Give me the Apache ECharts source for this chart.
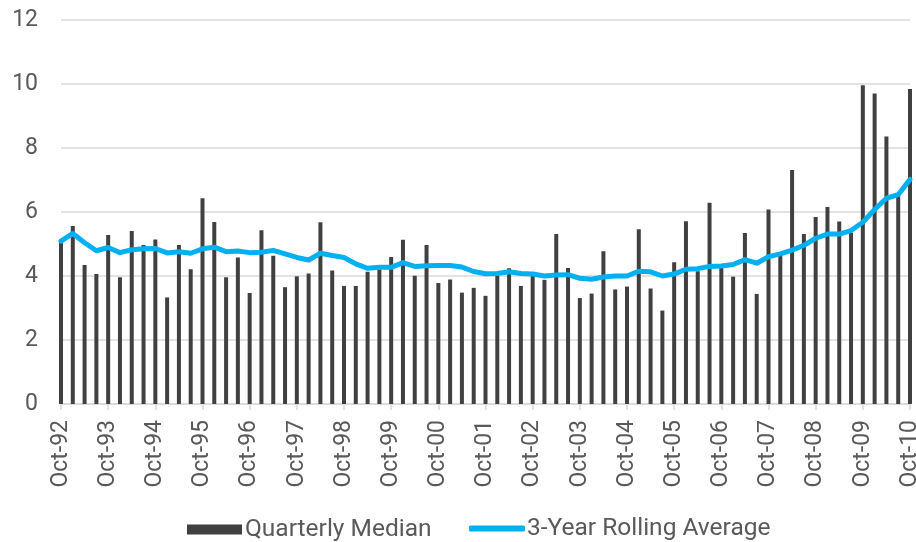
<!DOCTYPE html>
<html>
<head>
<meta charset="utf-8">
<title>Quarterly Median and 3-Year Rolling Average</title>
<script src="https://cdn.jsdelivr.net/npm/echarts@6/dist/echarts.min.js"></script>
<style>
  html, body { margin: 0; padding: 0; background: #ffffff; }
  #chart { width: 916px; height: 542px; }
</style>
</head>
<body>
<div id="chart"></div>
<script>
// Quarter labels, Oct-92 through Oct-10
const categories = [
  'Oct-92','Jan-93','Apr-93','Jul-93','Oct-93','Jan-94','Apr-94','Jul-94',
  'Oct-94','Jan-95','Apr-95','Jul-95','Oct-95','Jan-96','Apr-96','Jul-96',
  'Oct-96','Jan-97','Apr-97','Jul-97','Oct-97','Jan-98','Apr-98','Jul-98',
  'Oct-98','Jan-99','Apr-99','Jul-99','Oct-99','Jan-00','Apr-00','Jul-00',
  'Oct-00','Jan-01','Apr-01','Jul-01','Oct-01','Jan-02','Apr-02','Jul-02',
  'Oct-02','Jan-03','Apr-03','Jul-03','Oct-03','Jan-04','Apr-04','Jul-04',
  'Oct-04','Jan-05','Apr-05','Jul-05','Oct-05','Jan-06','Apr-06','Jul-06',
  'Oct-06','Jan-07','Apr-07','Jul-07','Oct-07','Jan-08','Apr-08','Jul-08',
  'Oct-08','Jan-09','Apr-09','Jul-09','Oct-09','Jan-10','Apr-10','Jul-10',
  'Oct-10'
];

// Quarterly median values
const quarterlyMedian = [
  5.15, 5.56, 4.34, 4.06, 5.28, 3.96, 5.41, 4.97, 5.14, 3.33,
  4.97, 4.21, 6.43, 5.69, 3.96, 4.58, 3.47, 5.43, 4.63, 3.65,
  3.99, 4.08, 5.68, 4.17, 3.69, 3.69, 4.13, 4.20, 4.59, 5.13,
  4.01, 4.97, 3.78, 3.89, 3.48, 3.63, 3.38, 4.00, 4.24, 3.69,
  4.00, 3.88, 5.31, 4.25, 3.31, 3.45, 4.77, 3.58, 3.67, 5.46,
  3.61, 2.92, 4.43, 5.71, 4.15, 6.29, 4.28, 3.98, 5.34, 3.44,
  6.08, 4.70, 7.31, 5.31, 5.84, 6.16, 5.70, 5.35, 9.96, 9.70,
  8.36, 6.50, 9.84
];

// 3-year rolling average
const rollingAverage = [
  5.09, 5.33, 5.04, 4.79, 4.89, 4.73, 4.82, 4.85, 4.86, 4.72,
  4.76, 4.71, 4.85, 4.90, 4.76, 4.78, 4.73, 4.74, 4.80, 4.69,
  4.58, 4.50, 4.71, 4.64, 4.58, 4.38, 4.24, 4.27, 4.27, 4.42,
  4.30, 4.32, 4.33, 4.33, 4.28, 4.14, 4.07, 4.08, 4.13, 4.08,
  4.06, 4.00, 4.03, 4.04, 3.93, 3.90, 3.97, 4.00, 4.00, 4.15,
  4.13, 4.00, 4.06, 4.21, 4.23, 4.30, 4.31, 4.36, 4.51, 4.40,
  4.60, 4.69, 4.81, 4.96, 5.18, 5.31, 5.31, 5.42, 5.68, 6.08,
  6.43, 6.54, 7.02
];

const yTicks = { min: 0, max: 12, step: 2 };

const seriesNames = ['Quarterly Median', '3-Year Rolling Average'];

const FONT = 'Roboto, "Noto Sans", sans-serif';
const TEXT = '#595959';
const GRID = '#d9d9d9';
const BAR = '#404040';
const LINE = '#00B0F0';

const chart = echarts.init(document.getElementById('chart'), null, { renderer: 'canvas' });

chart.setOption({
  animation: false,
  backgroundColor: '#ffffff',
  textStyle: { fontFamily: FONT },
  grid: {
    left: 61, right: 6, top: 20, bottom: 138,
    containLabel: false,
    outerBoundsMode: 'none'
  },
  legend: [
    {
      data: [seriesNames[0]],
      left: 187, top: 517, padding: 0,
      icon: 'rect', itemWidth: 55, itemHeight: 10,
      textStyle: { color: TEXT, fontSize: 24.5, fontFamily: FONT, padding: [0, 0, 0, -2] }
    },
    {
      data: [seriesNames[1]],
      left: 469, top: 516, padding: 0,
      icon: 'roundRect', itemWidth: 56, itemHeight: 6,
      textStyle: { color: TEXT, fontSize: 24.5, fontFamily: FONT, padding: [0, 0, 0, -3] }
    }
  ],
  xAxis: {
    type: 'category',
    data: categories,
    boundaryGap: false,
    axisLine: { show: true, lineStyle: { color: GRID, width: 1.5 } },
    axisTick: { show: true, interval: 3, length: 6, lineStyle: { color: GRID, width: 1.5 } },
    axisLabel: {
      interval: 3, rotate: 90, margin: 16,
      color: TEXT, fontSize: 23, fontFamily: FONT,
      padding: [0, 0, 7, 0]
    },
    splitLine: { show: false }
  },
  yAxis: {
    type: 'value',
    min: yTicks.min, max: yTicks.max, interval: yTicks.step,
    axisLine: { show: false },
    axisTick: { show: false },
    axisLabel: { color: TEXT, fontSize: 23, fontFamily: FONT, margin: 23 },
    splitLine: { show: true, lineStyle: { color: GRID, width: 1.5 } }
  },
  series: [
    {
      name: seriesNames[0],
      type: 'bar',
      data: quarterlyMedian,
      barWidth: 4,
      clip: false,
      itemStyle: { color: BAR },
      z: 2
    },
    {
      name: seriesNames[1],
      type: 'line',
      data: rollingAverage,
      symbol: 'none',
      clip: false,
      itemStyle: { color: LINE },
      lineStyle: { color: LINE, width: 5, cap: 'round', join: 'round' },
      z: 3
    }
  ]
});
</script>
</body>
</html>
